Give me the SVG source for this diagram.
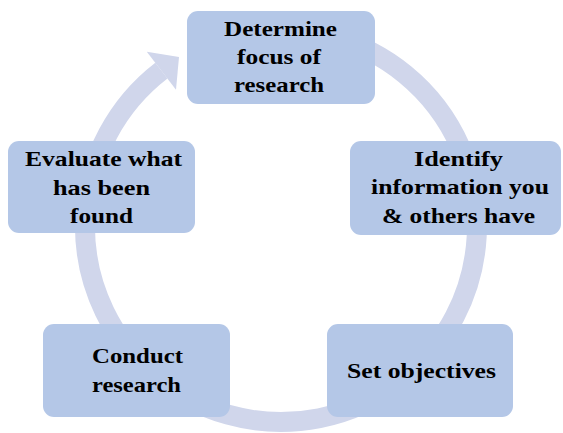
<svg xmlns="http://www.w3.org/2000/svg" width="563" height="433" viewBox="0 0 563 433">
<style>
.box{fill:#b4c7e7;}
.t{font-family:"Liberation Serif","DejaVu Serif",serif;font-weight:bold;font-size:21px;fill:#000;text-anchor:middle;}
.ring{fill:none;stroke:#d0d6eb;stroke-width:20;}
</style>
<rect width="563" height="433" fill="#fff"/>
<g id="connectors">
<path class="ring" d="M331.7,36.7 A196,196 0 1 1 161.4,70.7"/>
<polygon points="146.8,51.7 176,89.7 179,57" fill="#d0d6eb"/>
</g>
<g id="n1"><rect class="box" x="187" y="11" width="188" height="93" rx="11"/>
<text class="t" x="280.5" y="36" textLength="113" lengthAdjust="spacingAndGlyphs">Determine</text><text class="t" x="279" y="64" textLength="84" lengthAdjust="spacingAndGlyphs">focus of</text><text class="t" x="279" y="92" textLength="90" lengthAdjust="spacingAndGlyphs">research</text></g>
<g id="n2"><rect class="box" x="350" y="141" width="211" height="94" rx="11"/>
<text class="t" x="458.5" y="166" textLength="89" lengthAdjust="spacingAndGlyphs">Identify</text><text class="t" x="460" y="194" textLength="178" lengthAdjust="spacingAndGlyphs">information you</text><text class="t" x="458.5" y="223" textLength="153" lengthAdjust="spacingAndGlyphs">&amp; others have</text></g>
<g id="n3"><rect class="box" x="327" y="324" width="186" height="93" rx="11"/>
<text class="t" x="421.5" y="378" textLength="149" lengthAdjust="spacingAndGlyphs">Set objectives</text></g>
<g id="n4"><rect class="box" x="43" y="324" width="187" height="93" rx="11"/>
<text class="t" x="137.5" y="363" textLength="91" lengthAdjust="spacingAndGlyphs">Conduct</text><text class="t" x="136.5" y="392" textLength="89" lengthAdjust="spacingAndGlyphs">research</text></g>
<g id="n5"><rect class="box" x="8" y="141" width="187" height="92" rx="11"/>
<text class="t" x="103.5" y="166" textLength="157" lengthAdjust="spacingAndGlyphs">Evaluate what</text><text class="t" x="101.5" y="195" textLength="97" lengthAdjust="spacingAndGlyphs">has been</text><text class="t" x="101.5" y="223" textLength="63" lengthAdjust="spacingAndGlyphs">found</text></g>
</svg>
